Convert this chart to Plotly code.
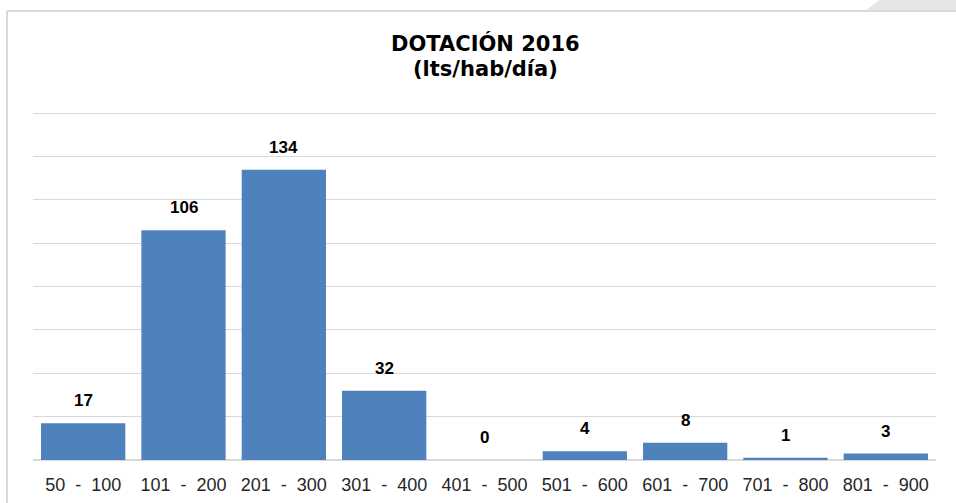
import plotly.graph_objects as go

categories = ["50 - 100", "101 - 200", "201 - 300", "301 - 400", "401 - 500",
              "501 - 600", "601 - 700", "701 - 800", "801 - 900"]
values = [17, 106, 134, 32, 0, 4, 8, 1, 3]
title_line1 = "DOTACIÓN 2016"
title_line2 = "(lts/hab/día)"

W, H = 956, 503
L, R, T, B = 33, 20, 112, 43
pw, ph = W - L - R, H - T - B

def px(x):
    return (x - L) / pw

def py(y):
    return (H - B - y) / ph

tick_text = [c.replace(" - ", "\u00a0\u00a0-\u00a0\u00a0") for c in categories]

fig = go.Figure(go.Bar(
    x=categories, y=values,
    marker=dict(color="#4F81BD", line=dict(width=0)),
))

annotations = [
    dict(x=c, y=v, xref="x", yref="y", text=f"<b>{v}</b>", showarrow=False,
         yanchor="bottom", yshift=11, font=dict(family="Liberation Sans, Arial", size=17, color="#000000"))
    for c, v in zip(categories, values)
]
title_font = dict(family="DejaVu Sans", size=21, color="#000000")
annotations += [
    dict(x=px(485), y=py(44), xref="paper", yref="paper", text=f"<b>{title_line1}</b>",
         showarrow=False, xanchor="center", yanchor="middle", font=title_font),
    dict(x=px(485), y=py(69), xref="paper", yref="paper", text=f"<b>{title_line2}</b>",
         showarrow=False, xanchor="center", yanchor="middle", font=title_font),
]

shapes = [
    # outer frame
    dict(type="line", xref="paper", yref="paper", x0=px(7), x1=px(7), y0=py(11), y1=py(510),
         line=dict(color="#d9d9d9", width=2)),
    dict(type="line", xref="paper", yref="paper", x0=px(7), x1=px(960), y0=py(11), y1=py(11),
         line=dict(color="#d9d9d9", width=2)),
    # corner decoration
    dict(type="path", xref="paper", yref="paper",
         path=f"M {px(866)} {py(10)} L {px(882)} {py(-2)} L {px(960)} {py(-2)} L {px(960)} {py(10)} Z",
         fillcolor="#e6e6e6", line=dict(width=0)),
]

fig.update_layout(
    width=W, height=H,
    margin=dict(l=L, r=R, t=T, b=B, autoexpand=False),
    paper_bgcolor="white", plot_bgcolor="white",
    bargap=0.16,
    showlegend=False,
    annotations=annotations,
    shapes=shapes,
    font=dict(family="Liberation Sans, Arial", size=18, color="#262626"),
)
fig.update_xaxes(tickvals=categories, ticktext=tick_text, ticks="", showline=False,
                 tickfont=dict(size=18, color="#262626"), ticklabelstandoff=12,
                 automargin=False)
fig.update_yaxes(range=[0, 160.6], tickvals=[20, 40, 60, 80, 100, 120, 140, 160],
                 showticklabels=False, gridcolor="#d9d9d9", automargin=False,
                 gridwidth=1, zeroline=True, zerolinecolor="#d9d9d9", zerolinewidth=2)

fig.write_html("out.html", config={"displayModeBar": False},
               post_script="document.body.style.margin='0';")
